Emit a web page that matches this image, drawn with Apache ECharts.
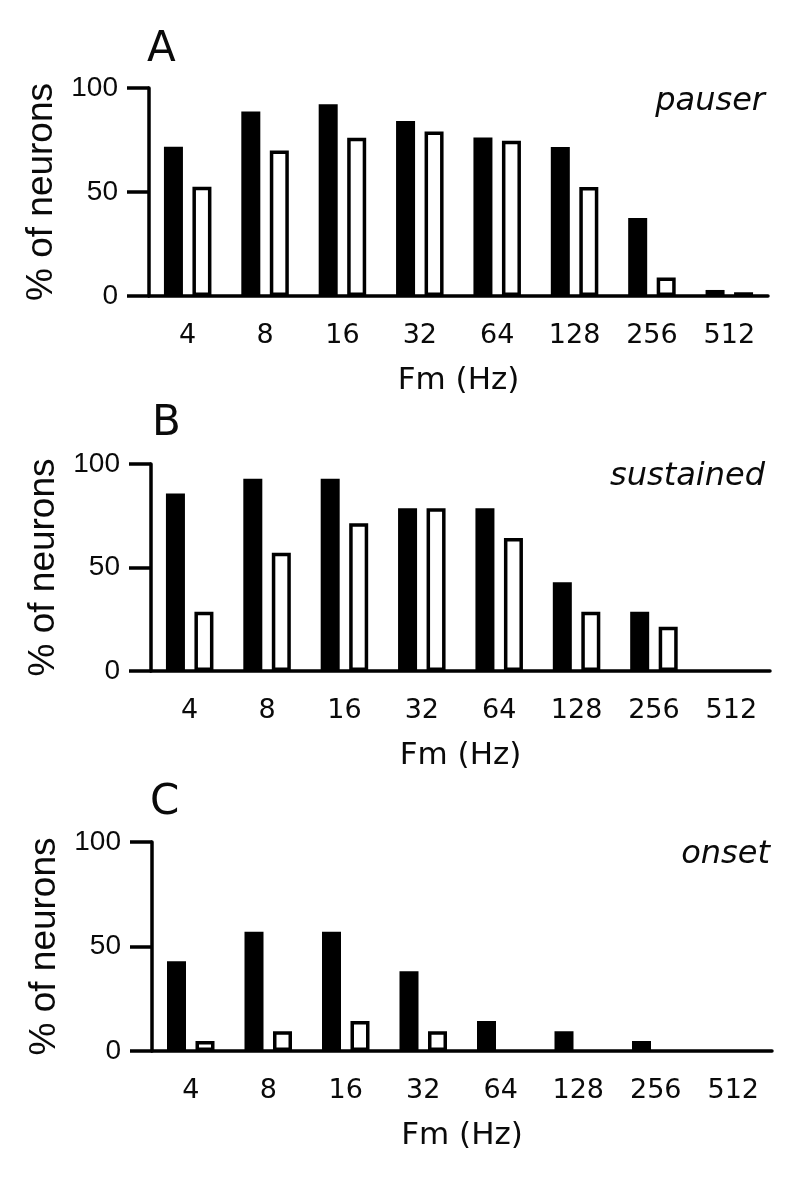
<!DOCTYPE html>
<html><head><meta charset="utf-8">
<script src="https://cdn.jsdelivr.net/npm/echarts@6/dist/echarts.min.js"></script>
<style>html,body{margin:0;padding:0;background:#fff}#c{width:800px;height:1179px}</style>
</head><body><div id="c"></div>
<script>
// Data (percent of neurons)
const categories = ['4', '8', '16', '32', '64', '128', '256', '512'];
const yTicks = [0, 50, 100];
const pauserFilled   = [71.7, 88.7, 92.2, 84.1, 76.2, 71.6, 37.5, 2.9];
const pauserOpen     = [52.5, 70.0, 76.1, 79.1, 74.6, 52.4, 8.9, 1.8];
const sustainedFilled = [85.7, 92.9, 92.9, 78.6, 78.6, 42.9, 28.6, 0];
const sustainedOpen   = [28.6, 57.1, 71.4, 78.6, 64.3, 28.6, 21.4, 0];
const onsetFilled    = [42.9, 57.1, 57.1, 38.1, 14.3, 9.5, 4.8, 0];
const onsetOpen      = [4.8, 9.5, 14.3, 9.5, 0, 0, 0, 0];
const panelLetters = ['A', 'B', 'C'];
const panelNames = ['pauser', 'sustained', 'onset'];

const TXT = '#0a0a0a';
const grids = [
  {left: 149, top: 88, width: 619, height: 208},
  {left: 151, top: 464, width: 619, height: 207},
  {left: 152, top: 842, width: 620, height: 209}
];
const letterPos = [{left: 147, top: 29}, {left: 152, top: 403}, {left: 150, top: 782}];
const namePos = [{right: 35, top: 86}, {right: 35, top: 461}, {right: 30, top: 839}];
const filled = [pauserFilled, sustainedFilled, onsetFilled];
const open = [pauserOpen, sustainedOpen, onsetOpen];

function toData(arr) {
  return arr.map(v => v === 0 ? {value: 0, itemStyle: {borderWidth: 0}} : v);
}

const xAxes = [], yAxes = [], series = [], titles = [];
for (let i = 0; i < 3; i++) {
  xAxes.push({
    type: 'category', gridIndex: i, data: categories,
    axisLine: {lineStyle: {color: '#000', width: 3.5}},
    axisTick: {alignWithLabel: true, length: 16, lineStyle: {color: '#000', width: 3.5}},
    axisLabel: {margin: 26, fontFamily: 'DejaVu Sans', fontSize: 27, color: TXT},
    name: 'Fm (Hz)', nameLocation: 'middle', nameGap: 69,
    nameTextStyle: {fontFamily: 'DejaVu Sans', fontSize: 31, color: TXT}
  });
  yAxes.push({
    type: 'value', gridIndex: i, min: 0, max: 100, interval: 50,
    axisLine: {show: true, lineStyle: {color: '#000', width: 3.5}},
    axisTick: {show: true, length: 22, lineStyle: {color: '#000', width: 3.5}},
    splitLine: {show: false},
    axisLabel: {margin: 31, fontFamily: 'Liberation Sans', fontSize: 28, color: TXT,
      formatter: v => yTicks.includes(v) ? String(v) : ''},
    name: '% of neurons', nameLocation: 'middle', nameGap: 71,
    nameTextStyle: {fontFamily: 'Liberation Sans', fontSize: 37, color: TXT}
  });
  series.push({
    type: 'bar', xAxisIndex: i, yAxisIndex: i, data: toData(filled[i]),
    barWidth: 19, barGap: '50%',
    itemStyle: {color: '#000', borderColor: '#000', borderWidth: 3.5}
  });
  series.push({
    type: 'bar', xAxisIndex: i, yAxisIndex: i, data: toData(open[i]),
    barWidth: 19, barGap: '50%',
    itemStyle: {color: '#fff', borderColor: '#000', borderWidth: 3.5}
  });
  titles.push(Object.assign({text: panelLetters[i], padding: 0,
    textStyle: {fontFamily: 'DejaVu Sans', fontSize: 42, fontWeight: 'normal', color: TXT}}, letterPos[i]));
  titles.push(Object.assign({text: panelNames[i], padding: 0,
    textStyle: {fontFamily: 'DejaVu Sans', fontSize: 32, fontStyle: 'italic', fontWeight: 'normal', color: TXT}}, namePos[i]));
}

const chart = echarts.init(document.getElementById('c'), null, {renderer: 'canvas'});
chart.setOption({
  backgroundColor: '#fff',
  animation: false,
  title: titles,
  grid: grids,
  xAxis: xAxes,
  yAxis: yAxes,
  series: series
});
</script>
</body></html>
